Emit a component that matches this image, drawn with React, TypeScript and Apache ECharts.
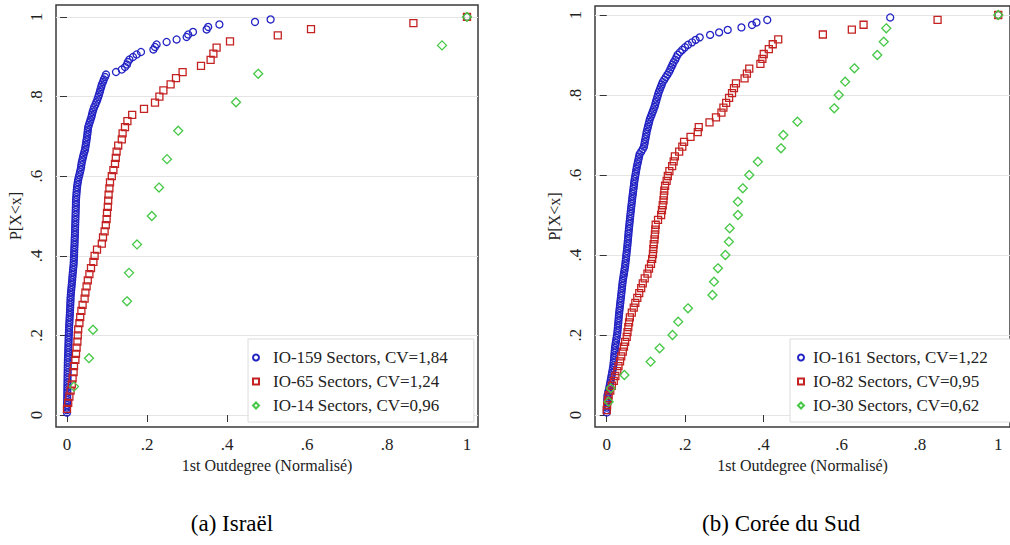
import React, { useEffect, useRef } from "react";
import * as echarts from "echarts";

const tickValues = [0, 0.2, 0.4, 0.6, 0.8, 1];
const tickLabels = ["0", ".2", ".4", ".6", ".8", "1"];
const xAxisTitle = "1st Outdegree (Normalisé)";
const yAxisTitle = "P[X<x]";
const captions = ["(a) Israël", "(b) Corée du Sud"];

const israelNames = ["IO-159 Sectors, CV=1,84", "IO-65 Sectors, CV=1,24", "IO-14 Sectors, CV=0,96"];
const koreaNames = ["IO-161 Sectors, CV=1,22", "IO-82 Sectors, CV=0,95", "IO-30 Sectors, CV=0,62"];

// sorted normalised outdegrees (x); the y of each point is its rank / n (empirical CDF)
const israel159 = [
  0, 0, 0, 0.0002, 0.0003, 0.0005, 0.0006,
  0.0007, 0.0008, 0.0009, 0.001, 0.0011, 0.0012, 0.0013, 0.0014, 0.0015, 0.0016, 0.0017, 0.0018, 0.0019, 0.002,
  0.0022, 0.0025, 0.0027, 0.003, 0.0032, 0.0034, 0.0036, 0.0038, 0.004, 0.0042, 0.0045, 0.0047, 0.005,
  0.0053, 0.0056, 0.006, 0.0063, 0.0066, 0.007, 0.0073, 0.0076, 0.008, 0.0082, 0.0085, 0.0088, 0.009,
  0.0095, 0.01, 0.0106, 0.0112, 0.0118, 0.0124, 0.013, 0.0135, 0.014, 0.0146, 0.0152, 0.0158, 0.0165,
  0.0168, 0.0171, 0.0174, 0.0177, 0.018, 0.0182, 0.0185, 0.0188, 0.019, 0.0192, 0.0195, 0.0198, 0.02,
  0.0202, 0.0204, 0.0206, 0.0208, 0.021, 0.0212, 0.0214, 0.0216, 0.0218, 0.022, 0.0222, 0.0223, 0.0225,
  0.023, 0.0235, 0.024, 0.0245, 0.0252, 0.026, 0.027, 0.028,
  0.0295, 0.031, 0.0325, 0.034, 0.0352, 0.036, 0.037,
  0.0385, 0.04, 0.0415, 0.0432, 0.045,
  0.046, 0.047, 0.048, 0.049, 0.05, 0.0508, 0.0515, 0.0522, 0.053,
  0.055, 0.057, 0.059, 0.061, 0.0625, 0.064, 0.066,
  0.068, 0.071, 0.0735, 0.076, 0.078,
  0.08, 0.082, 0.0835, 0.0855, 0.087,
  0.09, 0.092, 0.095, 0.0975,
  0.1225, 0.137, 0.145, 0.15, 0.152, 0.156, 0.165, 0.174, 0.185, 0.216, 0.22, 0.224,
  0.249, 0.274, 0.299, 0.303, 0.315, 0.349, 0.353, 0.381, 0.47, 0.509, 1.0,
];

const israel65 = [
  0, 0.003, 0.006, 0.009, 0.012, 0.014, 0.0165, 0.0175, 0.021, 0.0225,
  0.024, 0.026, 0.027, 0.028, 0.031, 0.033, 0.036, 0.039, 0.044, 0.046,
  0.049, 0.052, 0.056, 0.06, 0.066, 0.069, 0.075, 0.087, 0.09, 0.094,
  0.097, 0.099, 0.1, 0.102, 0.103, 0.104, 0.106, 0.1075, 0.112, 0.116,
  0.12, 0.122, 0.124, 0.128, 0.137, 0.139, 0.145, 0.151, 0.163, 0.1925,
  0.22, 0.231, 0.241, 0.259, 0.2725, 0.289, 0.335, 0.359, 0.366, 0.374,
  0.4075, 0.527, 0.61, 0.866, 1.0,
];

const israel14 = [0.0175, 0.055, 0.065, 0.15, 0.155, 0.175, 0.212, 0.23, 0.25, 0.278, 0.4225, 0.478, 0.9375, 1.0];

const korea161 = [
  0, 0,
  0.0003, 0.0006, 0.001, 0.0013, 0.0017, 0.002,
  0.0035, 0.005, 0.0065, 0.0078, 0.009,
  0.0102, 0.0113, 0.0125, 0.0137, 0.0148, 0.016, 0.017,
  0.0176, 0.0182, 0.0188, 0.0194, 0.02, 0.0205, 0.021,
  0.022, 0.023, 0.024, 0.025, 0.026, 0.027,
  0.0276, 0.0282, 0.0288, 0.0294, 0.03, 0.0305, 0.031,
  0.0317, 0.0324, 0.0331, 0.0338, 0.0345, 0.0352, 0.036,
  0.0367, 0.0374, 0.0381, 0.0388, 0.0395, 0.0402, 0.041,
  0.042, 0.043, 0.044, 0.045, 0.046, 0.047,
  0.0477, 0.0484, 0.0491, 0.0498, 0.0505, 0.0512, 0.052,
  0.0526, 0.0532, 0.0538, 0.0544, 0.055, 0.0555, 0.056,
  0.0567, 0.0574, 0.058, 0.0587, 0.0594, 0.06,
  0.0607, 0.0614, 0.0621, 0.0628, 0.0636, 0.0643, 0.065,
  0.0658, 0.0666, 0.0674, 0.0682, 0.069, 0.0698, 0.0705,
  0.0715, 0.0726, 0.0737, 0.0748, 0.0759, 0.077,
  0.0784, 0.0798, 0.0812, 0.0826, 0.084,
  0.088, 0.092, 0.095,
  0.0962, 0.0974, 0.0986, 0.0998, 0.101, 0.102,
  0.1036, 0.1052, 0.1068, 0.1084, 0.11,
  0.1124, 0.1148, 0.1172, 0.1196, 0.122,
  0.1238, 0.1256, 0.1274, 0.1292, 0.131, 0.133,
  0.1355, 0.138, 0.1405, 0.143,
  0.147, 0.151, 0.155, 0.159,
  0.162, 0.165, 0.168, 0.171,
  0.175, 0.178,
  0.181, 0.187, 0.193, 0.2, 0.2075, 0.218, 0.227, 0.2375, 0.264, 0.287, 0.309, 0.344,
  0.371, 0.3825, 0.41, 0.724, 1.0,
];

const korea82 = [
  0, 0.001, 0.003, 0.005, 0.009, 0.013, 0.018, 0.022, 0.027, 0.03,
  0.034, 0.037, 0.041, 0.044, 0.047, 0.051, 0.053, 0.055, 0.057, 0.059,
  0.064, 0.069, 0.073, 0.078, 0.083, 0.088, 0.092, 0.097, 0.104, 0.108,
  0.113, 0.116, 0.118, 0.119, 0.12, 0.122, 0.123, 0.124, 0.125, 0.131,
  0.139, 0.141, 0.143, 0.145, 0.146, 0.147, 0.149, 0.153, 0.156, 0.16,
  0.167, 0.171, 0.174, 0.185, 0.193, 0.1975, 0.214, 0.2325, 0.235, 0.2625,
  0.279, 0.293, 0.298, 0.305, 0.3125, 0.32, 0.325, 0.33, 0.352, 0.358,
  0.364, 0.3925, 0.3975, 0.401, 0.414, 0.424, 0.438, 0.552, 0.626, 0.656,
  0.845, 1.0,
];

const korea30 = [
  0.005, 0.01, 0.045, 0.112, 0.135, 0.168, 0.1825, 0.2075, 0.27, 0.274,
  0.284, 0.303, 0.312, 0.314, 0.335, 0.335, 0.3475, 0.364, 0.386, 0.445,
  0.451, 0.487, 0.581, 0.5925, 0.609, 0.6325, 0.691, 0.7075, 0.714, 1.0,
];

const FONT = "Liberation Serif";
const BLUE = "#2323c4";
const RED = "#c42222";
const GREEN = "#45c845";

const ecdf = (xs: number[]) => xs.map((x, i) => [x, (i + 1) / xs.length]);

const fmtTick = (v: number) => {
  const k = tickValues.findIndex((t) => Math.abs(t - v) < 1e-9);
  return k >= 0 ? tickLabels[k] : "";
};

export default function App() {
  const ref = useRef<HTMLDivElement>(null);

  useEffect(() => {
    if (!ref.current) return;
    const chart = echarts.init(ref.current, undefined, { renderer: "svg" });

    const mkSeries = (name: string, xs: number[], gi: number, symbol: string, color: string, size: number) => ({
      type: "scatter",
      name,
      xAxisIndex: gi,
      yAxisIndex: gi,
      data: ecdf(xs),
      symbol,
      symbolSize: size,
      clip: false,
      silent: true,
      emphasis: { disabled: true },
      itemStyle: { color: "rgba(255,255,255,0)", borderColor: color, borderWidth: 1.3, opacity: 1 },
    });

    const xAxisFor = (gi: number, min: number, max: number) => ({
      type: "value",
      gridIndex: gi,
      min,
      max,
      axisLine: { show: false },
      axisTick: { show: true, inside: false, length: 7, customValues: tickValues, lineStyle: { color: "#333", width: 1 } },
      axisLabel: { customValues: tickValues, formatter: fmtTick, fontFamily: FONT, fontSize: 17, color: "#222", margin: 9 },
      splitLine: { show: false },
      name: xAxisTitle,
      nameLocation: "middle",
      nameGap: 29,
      nameTextStyle: { fontFamily: FONT, fontSize: 16, color: "#222" },
    });

    const yAxisFor = (gi: number, min: number, max: number) => ({
      type: "value",
      gridIndex: gi,
      min,
      max,
      axisLine: { show: false },
      axisTick: { show: true, inside: false, length: 7, customValues: tickValues, lineStyle: { color: "#333", width: 1 } },
      axisLabel: { customValues: tickValues, formatter: fmtTick, rotate: 90, fontFamily: FONT, fontSize: 17, color: "#222", margin: 11 },
      splitLine: { show: true, lineStyle: { color: "#e4e4e4", width: 1 } },
      name: yAxisTitle,
      nameLocation: "middle",
      nameGap: 33,
      nameRotate: 90,
      nameTextStyle: { fontFamily: FONT, fontSize: 16, color: "#222" },
    });

    const legendFor = (names: string[], left: number, padLeft: number, textPad: number) => ({
      show: true,
      data: names,
      orient: "vertical",
      left,
      top: 339,
      padding: [10, 26, 8, padLeft],
      itemGap: 7,
      itemWidth: 6,
      itemHeight: 6,
      selectedMode: false,
      backgroundColor: "#ffffff",
      borderColor: "#dcdcdc",
      borderWidth: 1,
      textStyle: { fontFamily: FONT, fontSize: 17, color: "#222", padding: [0, 0, 0, textPad] },
    });

    chart.setOption({
      animation: false,
      backgroundColor: "#ffffff",
      grid: [
        { left: 56, top: 5, width: 422, height: 422, show: true, borderColor: "#3a3a3a", borderWidth: 1.5 },
        { left: 595, top: 6, width: 424, height: 421, show: true, borderColor: "#3a3a3a", borderWidth: 1.5 },
      ],
      xAxis: [xAxisFor(0, -0.0275, 1.0275), xAxisFor(1, -0.03, 1.03)],
      yAxis: [yAxisFor(0, -0.03, 1.03), yAxisFor(1, -0.03, 1.0225)],
      legend: [legendFor(israelNames, 248, 4, 9), legendFor(koreaNames, 790, 7, 4)],
      series: [
        mkSeries(israelNames[0], israel159, 0, "circle", BLUE, 7),
        mkSeries(israelNames[1], israel65, 0, "rect", RED, 7),
        mkSeries(israelNames[2], israel14, 0, "diamond", GREEN, 9),
        mkSeries(koreaNames[0], korea161, 1, "circle", BLUE, 7),
        mkSeries(koreaNames[1], korea82, 1, "rect", RED, 7),
        mkSeries(koreaNames[2], korea30, 1, "diamond", GREEN, 9),
      ],
      graphic: [
        { type: "text", x: 232, y: 523, style: { text: captions[0], font: "23px Liberation Serif", fill: "#000", align: "center", verticalAlign: "middle" } },
        { type: "text", x: 781, y: 523, style: { text: captions[1], font: "23px Liberation Serif", fill: "#000", align: "center", verticalAlign: "middle" } },
      ],
    } as any);

    return () => chart.dispose();
  }, []);

  return <div ref={ref} style={{ position: "absolute", left: 0, top: 0, width: 1010, height: 545 }} />;
}
